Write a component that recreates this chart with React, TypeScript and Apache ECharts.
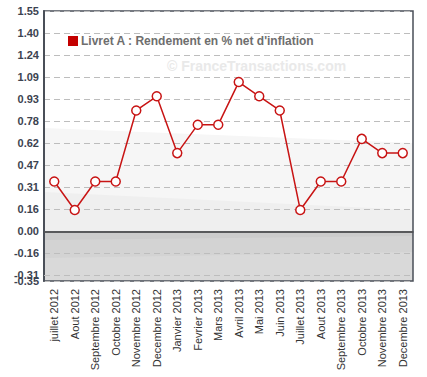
import React, { useEffect, useRef } from "react";
import * as echarts from "echarts";

const categories = [
  "juillet 2012", "Aout 2012", "Septembre 2012", "Octobre 2012", "Novembre 2012", "Decembre 2012",
  "Janvier 2013", "Fevrier 2013", "Mars 2013", "Avril 2013", "Mai 2013", "Juin 2013",
  "Juillet 2013", "Aout 2013", "Septembre 2013", "Octobre 2013", "Novembre 2013", "Decembre 2013",
];
const values = [0.35, 0.15, 0.35, 0.35, 0.85, 0.95, 0.55, 0.75, 0.75, 1.05, 0.95, 0.85, 0.15, 0.35, 0.35, 0.65, 0.55, 0.55];
const seriesName = "Livret A : Rendement en % net d'inflation";
const yTickValues = [-0.35, -0.31, -0.155, 0, 0.155, 0.31, 0.465, 0.62, 0.775, 0.93, 1.085, 1.24, 1.395, 1.55];
const yTickLabels = ["-0.35", "-0.31", "-0.16", "0.00", "0.16", "0.31", "0.47", "0.62", "0.78", "0.93", "1.09", "1.24", "1.40", "1.55"];
const yMin = -0.35;
const yMax = 1.55;

const W = 427, H = 377;
const G = { left: 44, right: 14, top: 11, bottom: 96 };

const labelFor = (v: number) => {
  let best = 0;
  yTickValues.forEach((t, i) => { if (Math.abs(t - v) < Math.abs(yTickValues[best] - v)) best = i; });
  return yTickLabels[best];
};

export default function App() {
  const ref = useRef<HTMLDivElement>(null);
  useEffect(() => {
    document.body.style.margin = "0";
    const chart = echarts.init(ref.current!, undefined, { renderer: "svg" });
    const x0 = G.left, x1 = W - G.right, y0 = G.top, y1 = H - G.bottom;
    const yPix = (v: number) => y0 + ((yMax - v) / (yMax - yMin)) * (y1 - y0);
    const z0 = yPix(0);
    const poly = (pts: number[][], fill: string) => ({
      type: "polygon", z: -10, silent: true, shape: { points: pts }, style: { fill },
    });
    const labelStyle = { fontSize: 11, fontWeight: "bold", color: "#3c4350", margin: 5, formatter: labelFor };
    chart.setOption({
      animation: false,
      textStyle: { fontFamily: "Liberation Sans, Arial, sans-serif" },
      grid: { ...G, show: true, borderColor: "#4a4f58", borderWidth: 1.5, backgroundColor: "transparent" },
      legend: {
        left: 63, top: 30, itemWidth: 10, itemHeight: 10, icon: "rect",
        itemStyle: { color: "#c40000", borderWidth: 0 },
        textStyle: { fontSize: 12, fontWeight: "bold", color: "#6e6e6e", padding: [0, 0, 0, -2] },
        data: [seriesName],
      },
      graphic: [
        { type: "rect", z: -11, silent: true, shape: { x: x0, y: y0, width: x1 - x0, height: y1 - y0 }, style: { fill: "#ffffff" } },
        poly([[x0, 128], [x1, 143], [x1, z0], [x0, z0]], "#f6f6f6"),
        poly([[x0, 192], [x1, 210], [x1, z0], [x0, z0]], "#efefef"),
        { type: "rect", z: -10, silent: true, shape: { x: x0, y: z0, width: x1 - x0, height: y1 - z0 }, style: { fill: "#d9d9d9" } },
        poly([[x0, z0], [x1, z0], [x1, 252], [x0, 258]], "#d3d3d3"),
        poly([[x0, z0], [x1, z0], [x1, 236], [x0, 240]], "#cccccc"),
        {
          type: "text", z: -5, silent: true, left: 167, top: 59,
          style: { text: "© FranceTransactions.com", fill: "#e9e9e9", font: "bold 14px Liberation Sans, Arial, sans-serif" },
        },
      ],
      xAxis: {
        type: "category", data: categories, boundaryGap: true,
        axisLine: { lineStyle: { color: "#4a4f58", width: 1.5 } },
        axisTick: { alignWithLabel: true, length: 4, lineStyle: { color: "#111", width: 2 } },
        axisLabel: { rotate: 90, interval: 0, fontSize: 11, color: "#333", margin: 8 },
        splitLine: { show: false },
      },
      yAxis: [
        {
          type: "value", min: yMin, max: yMax,
          axisLine: { show: true, lineStyle: { color: "#4a4f58", width: 2 } },
          axisTick: { show: false, customValues: yTickValues },
          axisLabel: {
            ...labelStyle,
            customValues: yTickValues.filter((v) => v !== -0.31),
            showMinLabel: true, showMaxLabel: true, hideOverlap: false,
          },
          splitLine: { show: true, customValues: yTickValues, lineStyle: { color: "#bdbdbd", type: [6, 4], width: 1 } },
        },
        {
          type: "value", min: yMin, max: yMax, position: "left",
          axisLine: { show: false }, axisTick: { show: false }, splitLine: { show: false },
          axisLabel: { ...labelStyle, customValues: [-0.31], showMinLabel: false, showMaxLabel: false },
        },
      ],
      series: [
        {
          name: seriesName, type: "line", data: values, yAxisIndex: 0,
          symbol: "circle", symbolSize: 9,
          lineStyle: { color: "#c81414", width: 1.5 },
          itemStyle: { color: "#ffffff", borderColor: "#c81414", borderWidth: 1.5 },
          markLine: {
            silent: true, symbol: "none", label: { show: false },
            lineStyle: { color: "#555", type: "solid", width: 1.5 },
            data: [{ yAxis: 0 }, { yAxis: -0.31, lineStyle: { color: "#bdbdbd", type: [6, 4], width: 1 } }],
          },
        },
      ],
    });
    return () => chart.dispose();
  }, []);
  return <div ref={ref} style={{ width: W, height: H }} />;
}
